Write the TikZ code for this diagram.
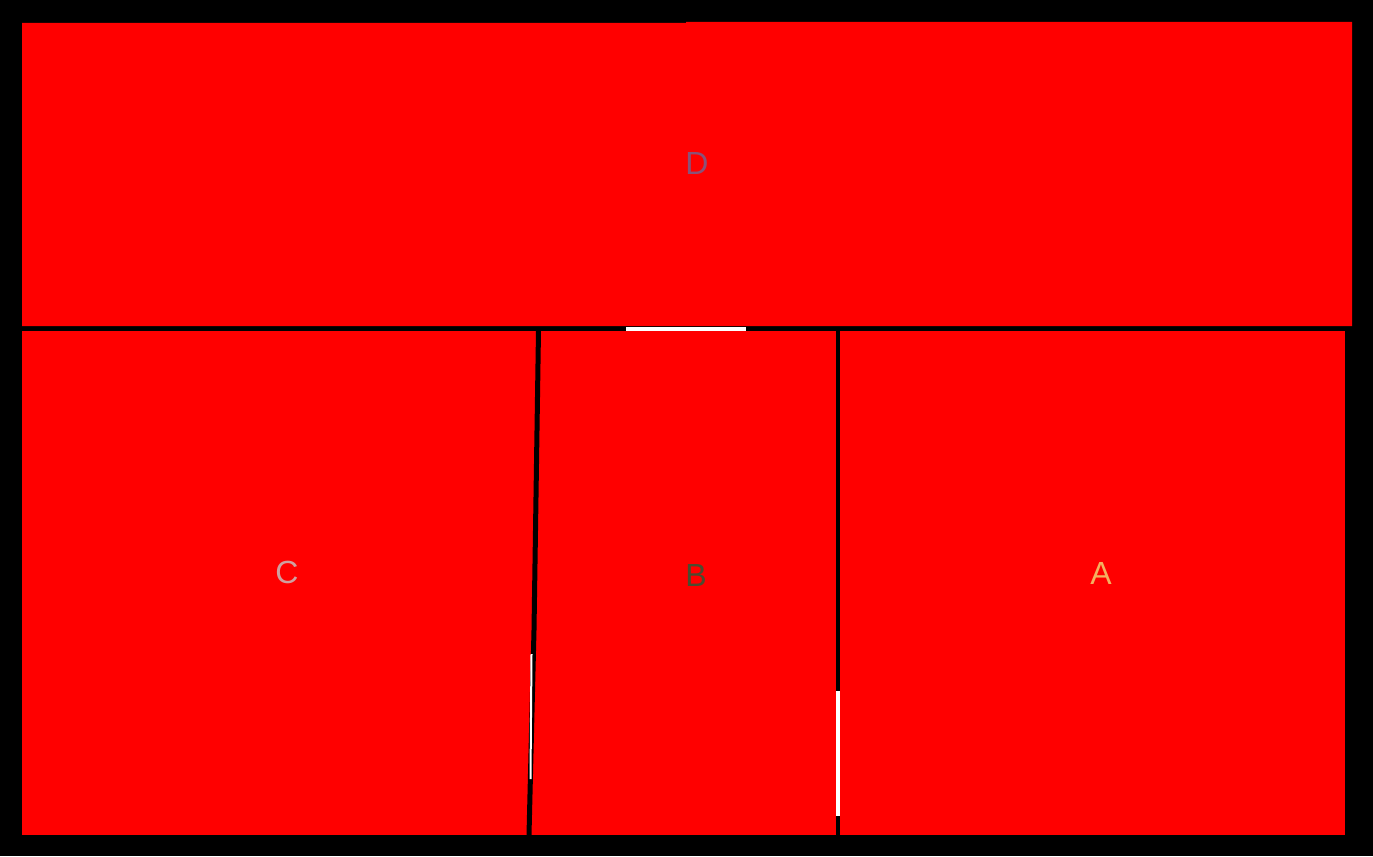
\documentclass[tikz,border=0pt]{standalone}
\usepackage{fontspec}
\setmainfont{Liberation Sans}
\definecolor{roomred}{RGB}{255,0,0}
\definecolor{labelD}{RGB}{138,82,120}
\definecolor{labelC}{RGB}{208,160,160}
\definecolor{labelB}{RGB}{74,76,48}
\definecolor{labelA}{RGB}{244,176,96}
\begin{document}
\begin{tikzpicture}[x=0.75pt, y=-0.75pt, every node/.style={align=center, font=\fontsize{24}{28}\selectfont},
  room/.style={fill=roomred}, wall/.style={black, line width=3.75pt}, door/.style={white, line width=3pt}]

% Background
\fill[black] (0,0) rectangle (1373,856);

% Rooms
\fill[room] (22,23) -- (686,23) -- (686,22) -- (1352,22) -- (1352,326) -- (22,326) -- cycle;
\fill[room] (22,331) rectangle (1345,835);

% Walls
\draw[wall] (538.5,330) -- (534,630) -- (529,835);
\draw[wall, line width=3pt] (838,330) -- (838,835);

% Doors
\draw[door] (626,328.5) -- (746,328.5);
\draw[door] (838,691) -- (838,816);
\draw[door, line width=1.5pt] (531.5,654) -- (530.5,779);

% Labels
\node[text=labelD] (D) at (697,163) {D};
\node[text=labelC] (C) at (287,572) {C};
\node[text=labelB] (B) at (696,575) {B};
\node[text=labelA] (A) at (1101,573) {A};

\end{tikzpicture}
\end{document}
